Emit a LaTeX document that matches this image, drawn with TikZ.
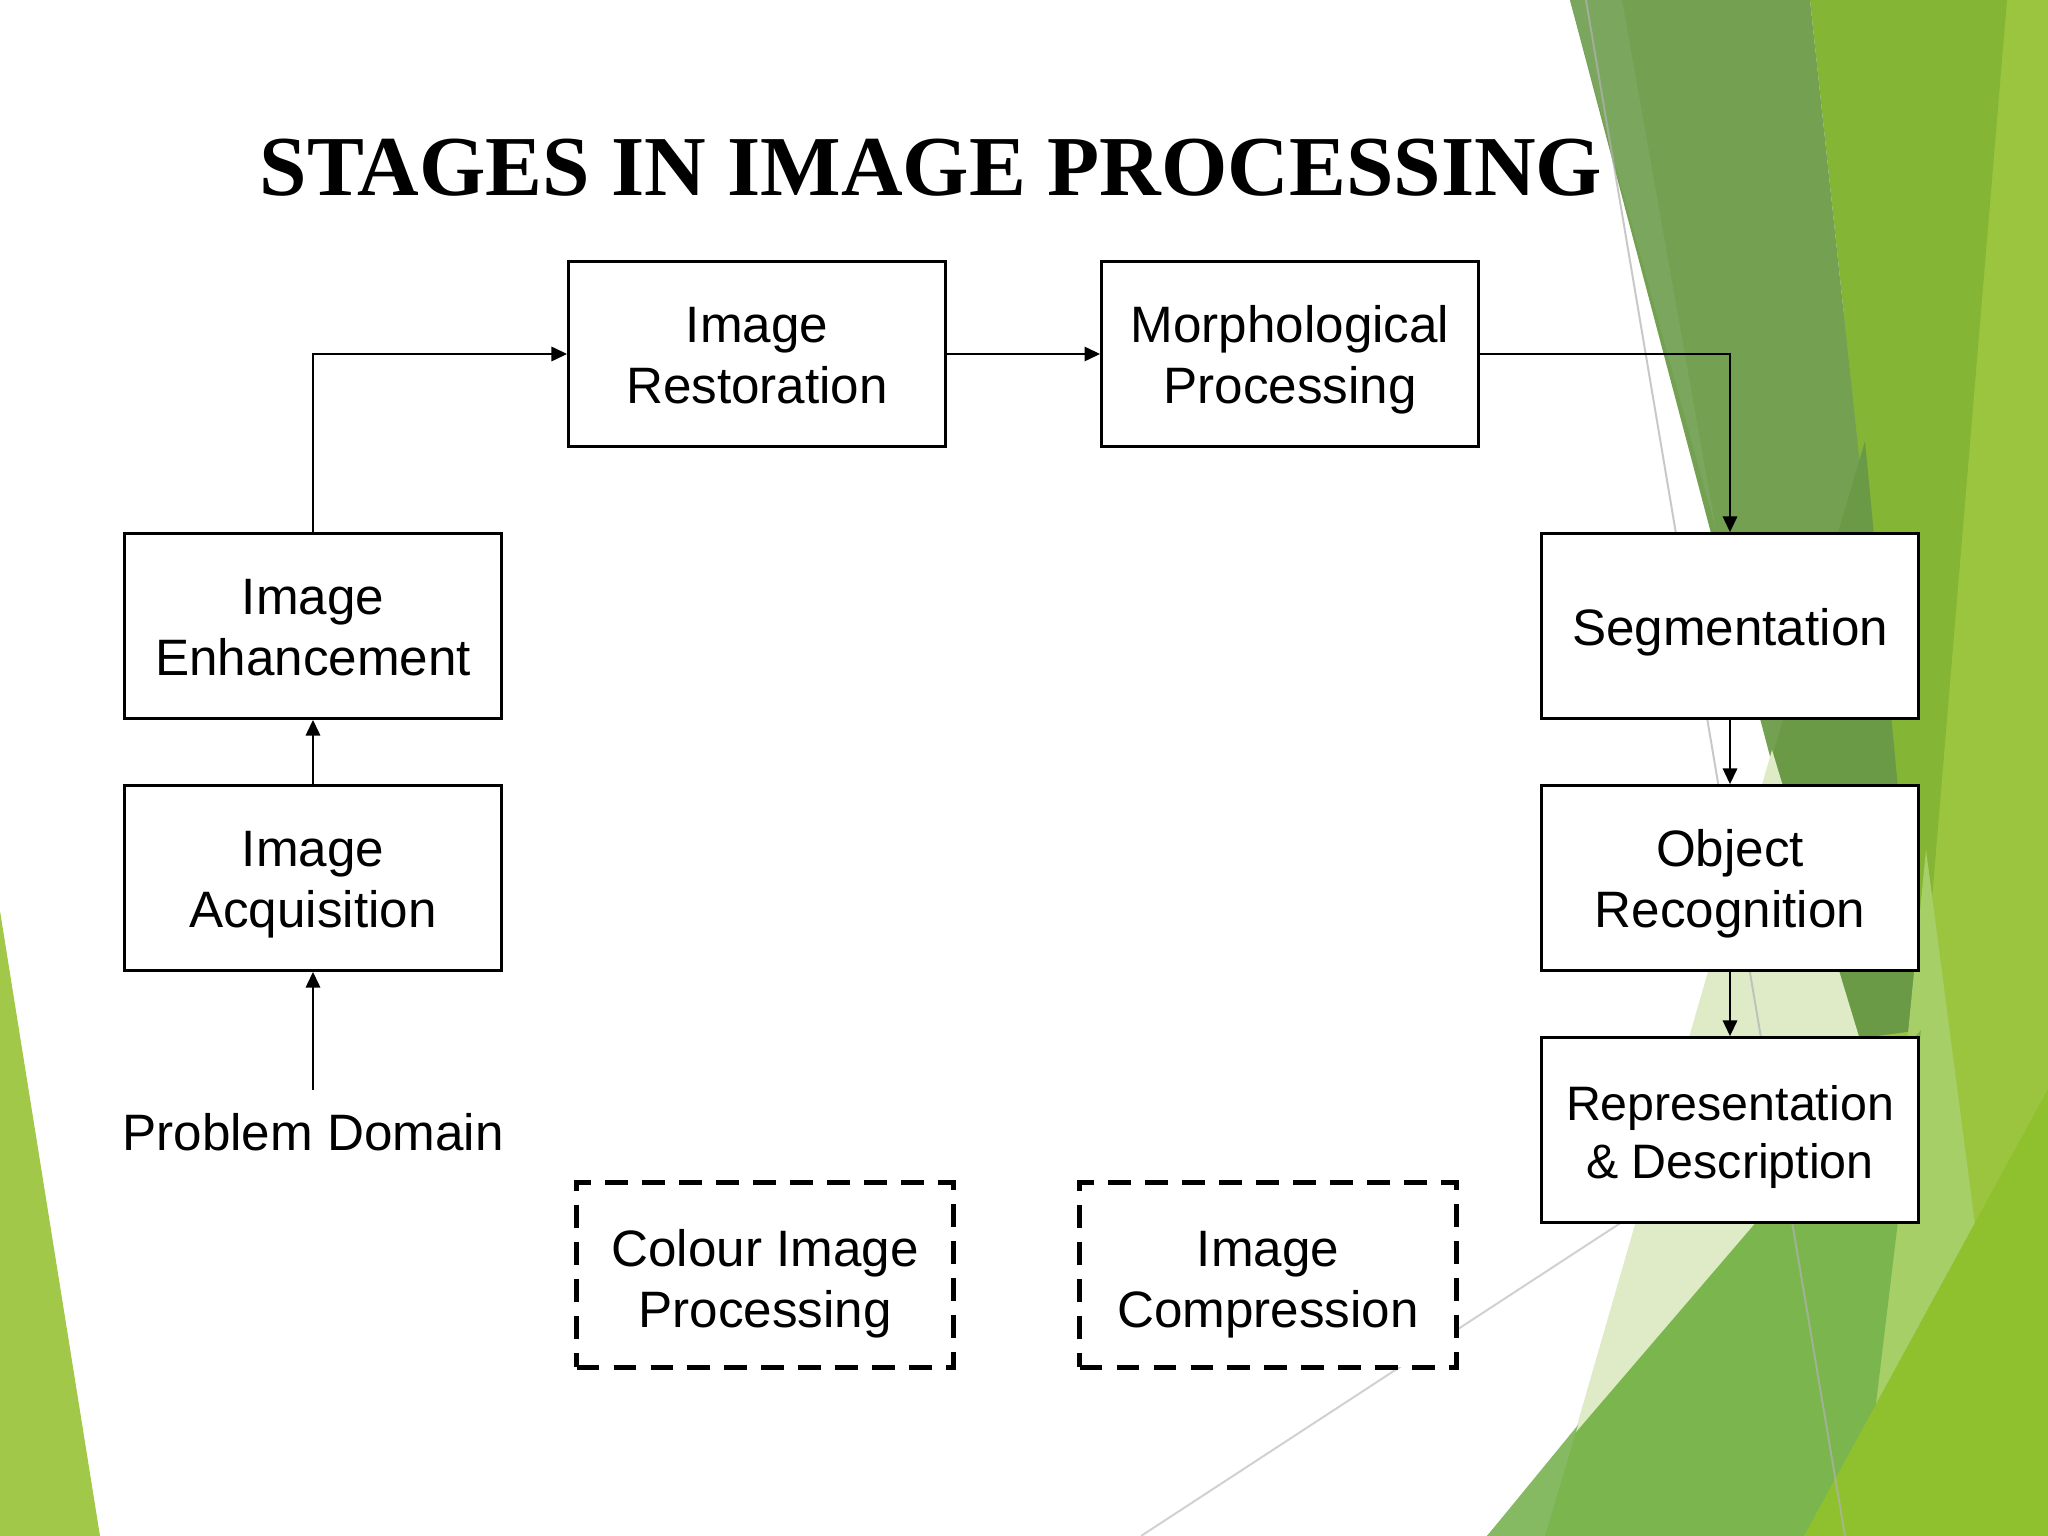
\documentclass[tikz,border=0pt]{standalone}
\usepackage{fontspec}
\setmainfont{Liberation Serif}
\setsansfont{Liberation Sans}
\usetikzlibrary{arrows.meta}
\definecolor{leafdull}{RGB}{116,160,82}
\definecolor{leafstrip}{RGB}{123,166,93}
\definecolor{leafdark}{RGB}{106,154,69}
\definecolor{leafbright}{RGB}{133,181,53}
\definecolor{leaflight}{RGB}{155,197,62}
\definecolor{leafmid}{RGB}{122,181,77}
\definecolor{leafmidpale}{RGB}{133,186,98}
\definecolor{leafyellow}{RGB}{143,192,46}
\definecolor{leafpale}{RGB}{222,235,198}
\definecolor{leafwedge}{RGB}{166,207,104}
\definecolor{leafleft}{RGB}{162,200,74}
\begin{document}
\begin{tikzpicture}[x=0.3515625pt, y=-0.3515625pt, >={Triangle[length=5.5pt,width=5pt]},
	stage/.style={rectangle, fill=white, draw=black, line width=1pt, minimum width=132.5pt, minimum height=65pt, inner sep=0pt, align=center, font=\sffamily\fontsize{18}{21.6}\selectfont, text height=38.7pt, text depth=3.8pt},
	extra/.style={stage, line width=1.8pt, dash pattern=on 8pt off 5pt, text height=40.9pt},
	link/.style={->, line width=0.85pt}]
		\useasboundingbox (0,0) rectangle (2048,1536);
		\fill[white] (0,0) rectangle (2048,1536);
		% green leaves of the slide
		\fill[leaflight] (1880,0) -- (2048,0) -- (2048,1536) -- (1700,1536) -- cycle;
		\fill[leafbright] (1810,0) -- (2007,0) -- (1921,1030) -- cycle;
		\fill[leafdull] (1570,0) -- (1810,0) -- (1921,1030) -- (1845,1040) -- cycle;
		\fill[leafstrip] (1570,0) -- (1622,0) -- (1716,530) -- cycle;
		\fill[leafdark] (1865,441) -- (1921,1030) -- (1845,1040) -- (1773,754) -- cycle;
		\fill[leafwedge] (1926,850) -- (1975,1225) -- (1870,1420) -- cycle;
		\draw[black!18, line width=0.7pt] (1141,1536) -- (1645,1207);
		\fill[leafpale] (1545,1536) -- (1772,750) -- (1860,1040) -- (1700,1536) -- cycle;
		\fill[leafmid] (1487,1536) -- (1921,1030) -- (1860,1536) -- cycle;
		\fill[leafmidpale] (1487,1536) -- (1545,1536) -- (1578,1425) -- cycle;
		\fill[leafyellow] (1804,1536) -- (2048,1089) -- (2048,1536) -- cycle;
		\fill[leafleft] (0,911) -- (100,1536) -- (0,1536) -- cycle;
		\draw[black!30, opacity=0.7, line width=0.7pt] (1586,0) -- (1845,1536);
		% title
		\node[anchor=base, font=\bfseries\fontsize{30}{36}\selectfont](title) at (931,196){STAGES IN IMAGE PROCESSING};
		% stages
		\node[stage](acq) at (313,878){Image\\ Acquisition};
		\node[stage](enh) at (313,626){Image\\ Enhancement};
		\node[stage](rest) at (757,354){Image\\ Restoration};
		\node[stage](morph) at (1290,354){Morphological\\ Processing};
		\node[stage, text height=17.7pt](seg) at (1730,626){Segmentation};
		\node[stage](obj) at (1730,878){Object\\ Recognition};
		\node[stage, font=\sffamily\fontsize{17}{20.4}\selectfont, text height=37.6pt](rep) at (1730,1130){Representation\\ \& Description};
		\node[extra](colour) at (765,1275){Colour Image\\ Processing};
		\node[extra](comp) at (1268,1275){Image\\ Compression};
		\node[inner xsep=3pt, inner ysep=8pt, font=\sffamily\fontsize{18}{21.6}\selectfont](prob) at (313,1132){Problem Domain};
		\draw [link] (prob.north) -- (acq.south);
		\draw [link] (acq.north) -- (enh.south);
		\draw [link] (enh.north) |- (rest.west);
		\draw [link] (rest.east) -- (morph.west);
		\draw [link] (morph.east) -| (seg.north);
		\draw [link] (seg.south) -- (obj.north);
		\draw [link] (obj.south) -- (rep.north);
	\end{tikzpicture}
\end{document}
